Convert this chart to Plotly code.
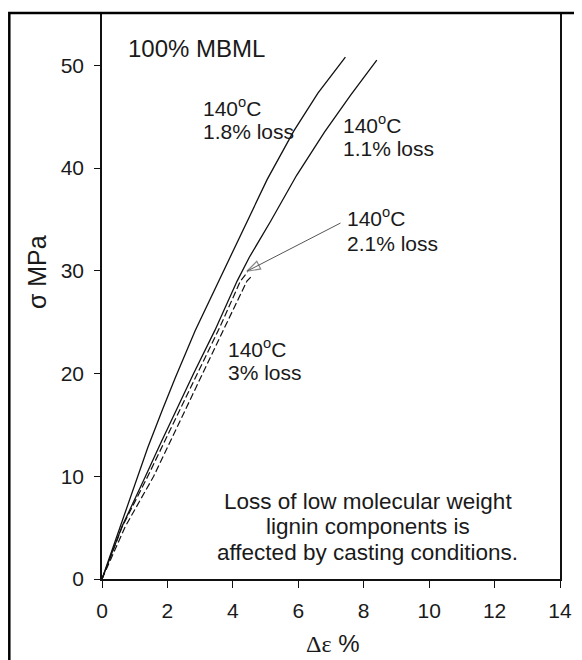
import plotly.graph_objects as go

# ---- data ----
strain_18 = [0, 0.56, 1.1, 1.4, 1.85, 2.24, 2.85, 3.57, 3.95, 4.32, 5.05, 5.86, 6.6, 7.44]
stress_18 = [0, 5.1, 10.0, 12.8, 16.5, 19.6, 24.2, 29.0, 31.6, 34.1, 38.9, 43.6, 47.3, 50.8]

strain_11 = [0, 0.61, 1.33, 1.76, 2.8, 3.45, 4.13, 4.5, 5.15, 5.95, 6.8, 7.6, 8.4]
stress_11 = [0, 5.1, 10.0, 13.0, 20.0, 24.2, 29.0, 31.3, 34.8, 39.3, 43.5, 47.1, 50.5]

strain_21 = [0, 0.62, 1.4, 2.9, 3.6, 4.23, 4.45]
stress_21 = [0, 5.1, 10.0, 20.0, 24.5, 29.0, 29.9]

strain_30 = [0, 0.71, 1.58, 3.06, 3.75, 4.43, 4.55]
stress_30 = [0, 5.1, 10.0, 20.0, 24.5, 29.0, 29.4]

arrow_x = [7.29, 4.43]
arrow_y = [34.65, 29.96]

x_ticks = [0, 2, 4, 6, 8, 10, 12, 14]
y_ticks = [0, 10, 20, 30, 40, 50]

# label text, left x, centre y
labels = [
    ("140<sup>o</sup>C", 3.03, 45.9),
    ("1.8% loss", 3.03, 43.6),
    ("140<sup>o</sup>C", 7.31, 44.3),
    ("1.1% loss", 7.31, 41.9),
    ("140<sup>o</sup>C", 7.42, 35.2),
    ("2.1% loss", 7.42, 32.7),
    ("140<sup>o</sup>C", 3.80, 22.5),
    ("3% loss", 3.80, 20.1),
]
note_lines = ["Loss of low molecular weight", "lignin components is",
              "affected by casting conditions."]
note_x = 8.13
note_y = [7.55, 5.13, 2.56]

FONT = "Liberation Sans, Arial, sans-serif"
TXT = "#1a1a1a"

fig = go.Figure()
line_style = dict(color="#111111", width=1.3)
fig.add_trace(go.Scatter(x=strain_18, y=stress_18, mode="lines", line=line_style))
fig.add_trace(go.Scatter(x=strain_11, y=stress_11, mode="lines", line=line_style))
fig.add_trace(go.Scatter(x=strain_21, y=stress_21, mode="lines",
                         line=dict(color="#111111", width=1.2, dash="7px,3px")))
fig.add_trace(go.Scatter(x=strain_30, y=stress_30, mode="lines",
                         line=dict(color="#111111", width=1.2, dash="7px,3px")))
fig.add_trace(go.Scatter(x=arrow_x, y=arrow_y, mode="lines+markers",
                         line=dict(color="#555555", width=1),
                         marker=dict(symbol="arrow-open", size=[0, 14], angleref="previous",
                                     color="#555555", line=dict(width=1.2, color="#555555"))))

for txt, lx, ly in labels:
    fig.add_annotation(x=lx, y=ly, text=txt, showarrow=False, xanchor="left",
                       yanchor="middle", font=dict(family=FONT, size=21, color=TXT))
for txt, ly in zip(note_lines, note_y):
    fig.add_annotation(x=note_x, y=ly, text=txt, showarrow=False, xanchor="center",
                       yanchor="middle", font=dict(family=FONT, size=22.5, color=TXT))
fig.add_annotation(x=0.74, y=51.6, text="100% MBML", showarrow=False, xanchor="left",
                   yanchor="middle", font=dict(family=FONT, size=24, color=TXT))

# axis titles
fig.add_annotation(xref="paper", yref="paper", x=-0.1419, y=0.5432, text="σ MPa",
                   textangle=-90, showarrow=False, xanchor="center", yanchor="middle",
                   font=dict(family=FONT, size=25, color=TXT))
fig.add_annotation(xref="paper", yref="paper", x=0.504, y=-0.1141,
                   text="<span style='font-family:Liberation Serif'>Δε</span> %",
                   showarrow=False, xanchor="center", yanchor="middle",
                   font=dict(family=FONT, size=24, color=TXT))

# outer frame
fig.add_shape(type="rect", xref="paper", yref="paper", x0=-0.2024, x1=1.2, y0=-0.3, y1=1.0018,
              line=dict(color="#000000", width=2.5), layer="above")

fig.update_layout(
    width=574, height=652,
    margin=dict(l=94, r=22, t=4, b=81),
    paper_bgcolor="white", plot_bgcolor="white",
    showlegend=False,
    font=dict(family=FONT, size=21, color=TXT),
    xaxis=dict(range=[0, 14], tickvals=x_ticks, ticks="outside", ticklen=7, tickwidth=1.2,
               tickcolor="#111", showline=True, linecolor="#111", linewidth=1.5, mirror=True,
               showgrid=False, zeroline=False, tickfont=dict(size=21), ticklabelstandoff=5),
    yaxis=dict(range=[0, 55], tickvals=y_ticks, ticks="outside", ticklen=6, tickwidth=1.2,
               tickcolor="#111", showline=True, linecolor="#111", linewidth=1.5, mirror=True,
               showgrid=False, zeroline=False, tickfont=dict(size=21), ticklabelstandoff=6),
)

fig.write_html("out.html")
